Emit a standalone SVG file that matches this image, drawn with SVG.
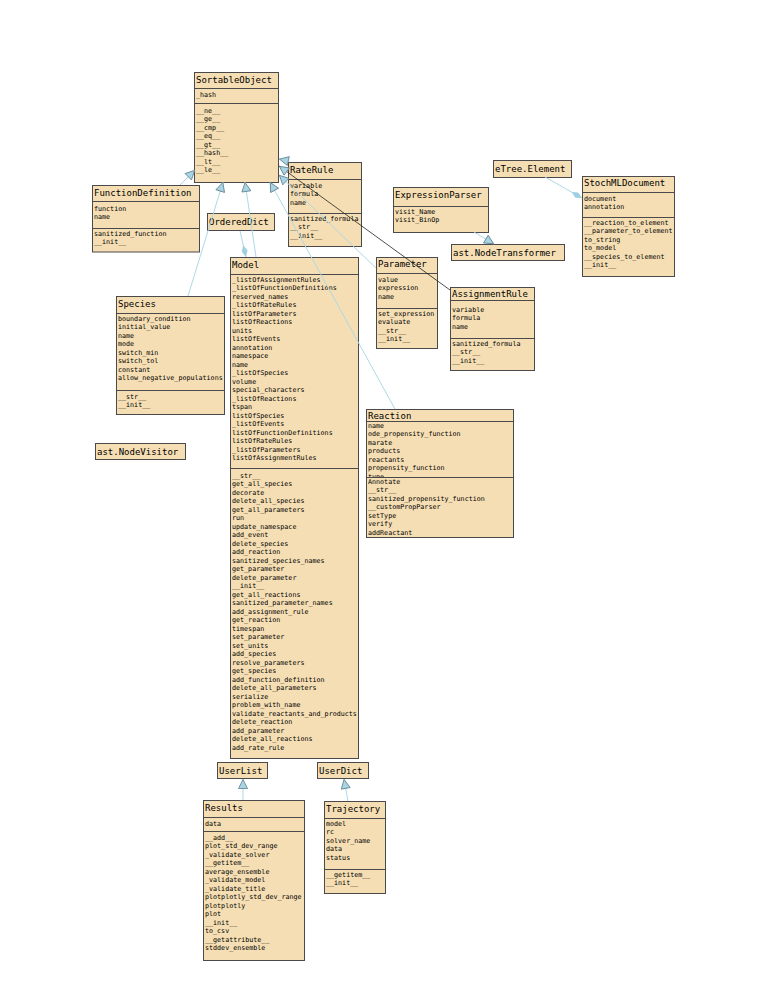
<svg xmlns="http://www.w3.org/2000/svg" width="765" height="990" viewBox="0 0 765 990">
<style>
  .box { fill: #f5deb3; stroke: #4a4a4a; stroke-width: 1; }
  .sep { stroke: #4a4a4a; stroke-width: 1; }
  .t { font-family: "DejaVu Sans Mono", "Liberation Mono", monospace; font-size: 9px; fill: #000; }
  .m { font-family: "DejaVu Sans Mono", "Liberation Mono", monospace; font-size: 6.7px; fill: #000; }
  .edge { stroke: #add8e6; stroke-width: 1; fill: none; }
  .edge-dark { stroke: #222; stroke-width: 0.8; fill: none; }
</style>
<defs>
  <marker id="inherit" viewBox="0 0 10 10" refX="10" refY="5" markerWidth="11" markerHeight="10" markerUnits="userSpaceOnUse" orient="auto">
    <path d="M0.5,0.5 L9.5,5 L0.5,9.5 z" fill="#a9d4e4" stroke="#5f7f8c" stroke-width="0.8"/>
  </marker>
  <marker id="compose" viewBox="0 0 12 6" refX="12" refY="3" markerWidth="12" markerHeight="6" markerUnits="userSpaceOnUse" orient="auto">
    <path d="M0,3 L6,0 L12,3 L6,6 z" fill="#9fd0e2"/>
  </marker>
  <clipPath id="reactionAttrs">
    <rect x="366" y="421" width="140" height="56"/>
  </clipPath>
</defs>

<rect width="765" height="990" fill="#fff"/>

<g id="nodes">
  <g id="SortableObject">
    <rect class="box" x="194.5" y="72.5" width="84" height="110"/>
    <text class="t" x="196" y="82.5">SortableObject</text>
    <line class="sep" x1="194.5" y1="88.5" x2="278.5" y2="88.5"/>
    <text class="m" x="196" y="96.5">_hash</text>
    <line class="sep" x1="194.5" y1="103.5" x2="278.5" y2="103.5"/>
    <text class="m" x="196" y="112.5">__ne__<tspan x="196" dy="8.5">__ge__</tspan><tspan x="196" dy="8.5">__cmp__</tspan><tspan x="196" dy="8.5">__eq__</tspan><tspan x="196" dy="8.5">__gt__</tspan><tspan x="196" dy="8.5">__hash__</tspan><tspan x="196" dy="8.5">__lt__</tspan><tspan x="196" dy="8.5">__le__</tspan></text>
  </g>

  <g id="FunctionDefinition">
    <rect class="box" x="92.5" y="185.5" width="107" height="66.5"/>
    <text class="t" x="94" y="195.5">FunctionDefinition</text>
    <line class="sep" x1="92.5" y1="201.5" x2="199.5" y2="201.5"/>
    <text class="m" x="94" y="210.5">function<tspan x="94" dy="8.5">name</tspan></text>
    <line class="sep" x1="92.5" y1="228.5" x2="199.5" y2="228.5"/>
    <text class="m" x="94" y="235.5">sanitized_function<tspan x="94" dy="8.5">__init__</tspan></text>
  </g>

  <g id="OrderedDict">
    <rect class="box" x="207.5" y="213.5" width="67" height="17"/>
    <text class="t" x="209" y="225">OrderedDict</text>
  </g>

  <g id="RateRule">
    <rect class="box" x="288.5" y="162.5" width="73" height="84"/>
    <text class="t" x="290" y="172.5">RateRule</text>
    <line class="sep" x1="288.5" y1="179.5" x2="361.5" y2="179.5"/>
    <text class="m" x="290" y="187.5">variable<tspan x="290" dy="8.5">formula</tspan><tspan x="290" dy="8.5">name</tspan></text>
    <line class="sep" x1="288.5" y1="213.5" x2="361.5" y2="213.5"/>
    <text class="m" x="290" y="220.5">sanitized_formula<tspan x="290" dy="8.5">__str__</tspan><tspan x="290" dy="8.5">__init__</tspan></text>
  </g>

  <g id="ExpressionParser">
    <rect class="box" x="393.5" y="187.5" width="95" height="45"/>
    <text class="t" x="395" y="197.5">ExpressionParser</text>
    <line class="sep" x1="393.5" y1="206.5" x2="488.5" y2="206.5"/>
    <text class="m" x="395" y="213.5">visit_Name<tspan x="395" dy="8.5">visit_BinOp</tspan></text>
  </g>

  <g id="ast.NodeTransformer">
    <rect class="box" x="451.5" y="244.5" width="113" height="16"/>
    <text class="t" x="453" y="255.5">ast.NodeTransformer</text>
  </g>

  <g id="eTree.Element">
    <rect class="box" x="493.5" y="160.5" width="78" height="17"/>
    <text class="t" x="495" y="171.5">eTree.Element</text>
  </g>

  <g id="StochMLDocument">
    <rect class="box" x="582.5" y="176.5" width="92" height="100"/>
    <text class="t" x="584" y="186">StochMLDocument</text>
    <line class="sep" x1="582.5" y1="192.5" x2="674.5" y2="192.5"/>
    <text class="m" x="584" y="200.5">document<tspan x="584" dy="8.5">annotation</tspan></text>
    <line class="sep" x1="582.5" y1="217.5" x2="674.5" y2="217.5"/>
    <text class="m" x="584" y="224.5">__reaction_to_element<tspan x="584" dy="8.5">__parameter_to_element</tspan><tspan x="584" dy="8.5">to_string</tspan><tspan x="584" dy="8.5">to_model</tspan><tspan x="584" dy="8.5">__species_to_element</tspan><tspan x="584" dy="8.5">__init__</tspan></text>
  </g>

  <g id="Parameter">
    <rect class="box" x="376.5" y="257.5" width="61" height="91"/>
    <text class="t" x="378" y="267">Parameter</text>
    <line class="sep" x1="376.5" y1="273.5" x2="437.5" y2="273.5"/>
    <text class="m" x="378" y="281.5">value<tspan x="378" dy="8.5">expression</tspan><tspan x="378" dy="8.5">name</tspan></text>
    <line class="sep" x1="376.5" y1="308.5" x2="437.5" y2="308.5"/>
    <text class="m" x="378" y="315.5">set_expression<tspan x="378" dy="8.5">evaluate</tspan><tspan x="378" dy="8.5">__str__</tspan><tspan x="378" dy="8.5">__init__</tspan></text>
  </g>

  <g id="AssignmentRule">
    <rect class="box" x="450.5" y="287.5" width="84" height="83"/>
    <text class="t" x="452" y="297">AssignmentRule</text>
    <line class="sep" x1="450.5" y1="300.5" x2="534.5" y2="300.5"/>
    <text class="m" x="452" y="311.5">variable<tspan x="452" dy="8.5">formula</tspan><tspan x="452" dy="8.5">name</tspan></text>
    <line class="sep" x1="450.5" y1="338.5" x2="534.5" y2="338.5"/>
    <text class="m" x="452" y="345.5">sanitized_formula<tspan x="452" dy="8.5">__str__</tspan><tspan x="452" dy="8.5">__init__</tspan></text>
  </g>

  <g id="Model">
    <rect class="box" x="230.5" y="257.5" width="128" height="501"/>
    <text class="t" x="232" y="268">Model</text>
    <line class="sep" x1="230.5" y1="274.5" x2="358.5" y2="274.5"/>
    <text class="m" x="232" y="281.5">_listOfAssignmentRules<tspan x="232" dy="8.5">_listOfFunctionDefinitions</tspan><tspan x="232" dy="8.5">reserved_names</tspan><tspan x="232" dy="8.5">_listOfRateRules</tspan><tspan x="232" dy="8.5">listOfParameters</tspan><tspan x="232" dy="8.5">listOfReactions</tspan><tspan x="232" dy="8.5">units</tspan><tspan x="232" dy="8.5">listOfEvents</tspan><tspan x="232" dy="8.5">annotation</tspan><tspan x="232" dy="8.5">namespace</tspan><tspan x="232" dy="8.5">name</tspan><tspan x="232" dy="8.5">_listOfSpecies</tspan><tspan x="232" dy="8.5">volume</tspan><tspan x="232" dy="8.5">special_characters</tspan><tspan x="232" dy="8.5">_listOfReactions</tspan><tspan x="232" dy="8.5">tspan</tspan><tspan x="232" dy="8.5">listOfSpecies</tspan><tspan x="232" dy="8.5">_listOfEvents</tspan><tspan x="232" dy="8.5">listOfFunctionDefinitions</tspan><tspan x="232" dy="8.5">listOfRateRules</tspan><tspan x="232" dy="8.5">_listOfParameters</tspan><tspan x="232" dy="8.5">listOfAssignmentRules</tspan></text>
    <line class="sep" x1="230.5" y1="468.5" x2="358.5" y2="468.5"/>
    <text class="m" x="232" y="477.5">__str__<tspan x="232" dy="8.5">get_all_species</tspan><tspan x="232" dy="8.5">decorate</tspan><tspan x="232" dy="8.5">delete_all_species</tspan><tspan x="232" dy="8.5">get_all_parameters</tspan><tspan x="232" dy="8.5">run</tspan><tspan x="232" dy="8.5">update_namespace</tspan><tspan x="232" dy="8.5">add_event</tspan><tspan x="232" dy="8.5">delete_species</tspan><tspan x="232" dy="8.5">add_reaction</tspan><tspan x="232" dy="8.5">sanitized_species_names</tspan><tspan x="232" dy="8.5">get_parameter</tspan><tspan x="232" dy="8.5">delete_parameter</tspan><tspan x="232" dy="8.5">__init__</tspan><tspan x="232" dy="8.5">get_all_reactions</tspan><tspan x="232" dy="8.5">sanitized_parameter_names</tspan><tspan x="232" dy="8.5">add_assignment_rule</tspan><tspan x="232" dy="8.5">get_reaction</tspan><tspan x="232" dy="8.5">timespan</tspan><tspan x="232" dy="8.5">set_parameter</tspan><tspan x="232" dy="8.5">set_units</tspan><tspan x="232" dy="8.5">add_species</tspan><tspan x="232" dy="8.5">resolve_parameters</tspan><tspan x="232" dy="8.5">get_species</tspan><tspan x="232" dy="8.5">add_function_definition</tspan><tspan x="232" dy="8.5">delete_all_parameters</tspan><tspan x="232" dy="8.5">serialize</tspan><tspan x="232" dy="8.5">problem_with_name</tspan><tspan x="232" dy="8.5">validate_reactants_and_products</tspan><tspan x="232" dy="8.5">delete_reaction</tspan><tspan x="232" dy="8.5">add_parameter</tspan><tspan x="232" dy="8.5">delete_all_reactions</tspan><tspan x="232" dy="8.5">add_rate_rule</tspan></text>
  </g>

  <g id="Species">
    <rect class="box" x="116.5" y="296.5" width="108" height="118"/>
    <text class="t" x="118" y="306.5">Species</text>
    <line class="sep" x1="116.5" y1="313.5" x2="224.5" y2="313.5"/>
    <text class="m" x="118" y="320.5">boundary_condition<tspan x="118" dy="8.5">initial_value</tspan><tspan x="118" dy="8.5">name</tspan><tspan x="118" dy="8.5">mode</tspan><tspan x="118" dy="8.5">switch_min</tspan><tspan x="118" dy="8.5">switch_tol</tspan><tspan x="118" dy="8.5">constant</tspan><tspan x="118" dy="8.5">allow_negative_populations</tspan></text>
    <line class="sep" x1="116.5" y1="390.5" x2="224.5" y2="390.5"/>
    <text class="m" x="118" y="398.5">__str__<tspan x="118" dy="8.5">__init__</tspan></text>
  </g>

  <g id="ast.NodeVisitor">
    <rect class="box" x="95.5" y="443.5" width="90" height="16"/>
    <text class="t" x="97" y="454.5">ast.NodeVisitor</text>
  </g>

  <g id="Reaction">
    <rect class="box" x="366.5" y="409.5" width="147" height="128"/>
    <text class="t" x="368" y="419">Reaction</text>
    <line class="sep" x1="366.5" y1="421.5" x2="513.5" y2="421.5"/>
    <text class="m" x="368" y="427.5" clip-path="url(#reactionAttrs)">name<tspan x="368" dy="8.5">ode_propensity_function</tspan><tspan x="368" dy="8.5">marate</tspan><tspan x="368" dy="8.5">products</tspan><tspan x="368" dy="8.5">reactants</tspan><tspan x="368" dy="8.5">propensity_function</tspan><tspan x="368" dy="8.5">type</tspan></text>
    <line class="sep" x1="366.5" y1="477.5" x2="513.5" y2="477.5"/>
    <text class="m" x="368" y="483.5">Annotate<tspan x="368" dy="8.5">__str__</tspan><tspan x="368" dy="8.5">sanitized_propensity_function</tspan><tspan x="368" dy="8.5">__customPropParser</tspan><tspan x="368" dy="8.5">setType</tspan><tspan x="368" dy="8.5">verify</tspan><tspan x="368" dy="8.5">addReactant</tspan></text>
  </g>

  <g id="UserList">
    <rect class="box" x="217.5" y="762.5" width="50" height="16"/>
    <text class="t" x="219" y="773.5">UserList</text>
  </g>

  <g id="UserDict">
    <rect class="box" x="317.5" y="762.5" width="51" height="16"/>
    <text class="t" x="319" y="773.5">UserDict</text>
  </g>

  <g id="Results">
    <rect class="box" x="203.5" y="800.5" width="101" height="160"/>
    <text class="t" x="205" y="810.5">Results</text>
    <line class="sep" x1="203.5" y1="817.5" x2="304.5" y2="817.5"/>
    <text class="m" x="205" y="825.5">data</text>
    <line class="sep" x1="203.5" y1="831.5" x2="304.5" y2="831.5"/>
    <text class="m" x="205" y="839.5">__add__<tspan x="205" dy="8.5">plot_std_dev_range</tspan><tspan x="205" dy="8.5">_validate_solver</tspan><tspan x="205" dy="8.5">__getitem__</tspan><tspan x="205" dy="8.5">average_ensemble</tspan><tspan x="205" dy="8.5">_validate_model</tspan><tspan x="205" dy="8.5">_validate_title</tspan><tspan x="205" dy="8.5">plotplotly_std_dev_range</tspan><tspan x="205" dy="8.5">plotplotly</tspan><tspan x="205" dy="8.5">plot</tspan><tspan x="205" dy="8.5">__init__</tspan><tspan x="205" dy="8.5">to_csv</tspan><tspan x="205" dy="8.5">__getattribute__</tspan><tspan x="205" dy="8.5">stddev_ensemble</tspan></text>
  </g>

  <g id="Trajectory">
    <rect class="box" x="324.5" y="801.5" width="61" height="92"/>
    <text class="t" x="326" y="811.5">Trajectory</text>
    <line class="sep" x1="324.5" y1="818.5" x2="385.5" y2="818.5"/>
    <text class="m" x="326" y="825.5">model<tspan x="326" dy="8.5">rc</tspan><tspan x="326" dy="8.5">solver_name</tspan><tspan x="326" dy="8.5">data</tspan><tspan x="326" dy="8.5">status</tspan></text>
    <line class="sep" x1="324.5" y1="869.5" x2="385.5" y2="869.5"/>
    <text class="m" x="326" y="876.5">__getitem__<tspan x="326" dy="8.5">__init__</tspan></text>
  </g>
</g>

<g id="connectors">
  <!-- inheritance: child to parent, hollow-style triangle at the parent -->
  <line class="edge" x1="180" y1="185" x2="195" y2="170" marker-end="url(#inherit)"/>
  <line class="edge" x1="188" y1="296" x2="223" y2="182" marker-end="url(#inherit)"/>
  <line class="edge" x1="256" y1="257" x2="245" y2="182" marker-end="url(#inherit)"/>
  <line class="edge" x1="395" y1="409" x2="270" y2="182" marker-end="url(#inherit)"/>
  <line class="edge" x1="376" y1="268" x2="279" y2="175" marker-end="url(#inherit)"/>
  <line class="edge-dark" x1="450" y1="290" x2="279" y2="166" marker-end="url(#inherit)"/>
  <line class="edge" x1="288" y1="161" x2="279" y2="159" marker-end="url(#inherit)"/>
  <line class="edge" x1="474" y1="232" x2="494" y2="244" marker-end="url(#inherit)"/>
  <line class="edge" x1="243" y1="800" x2="243" y2="779" marker-end="url(#inherit)"/>
  <line class="edge" x1="348" y1="801" x2="344" y2="779" marker-end="url(#inherit)"/>
  <!-- composition: filled diamond at the owner -->
  <line class="edge" x1="240" y1="231" x2="246" y2="257" marker-end="url(#compose)"/>
  <line class="edge" x1="545" y1="177" x2="582" y2="198" marker-end="url(#compose)"/>
</g>
</svg>
